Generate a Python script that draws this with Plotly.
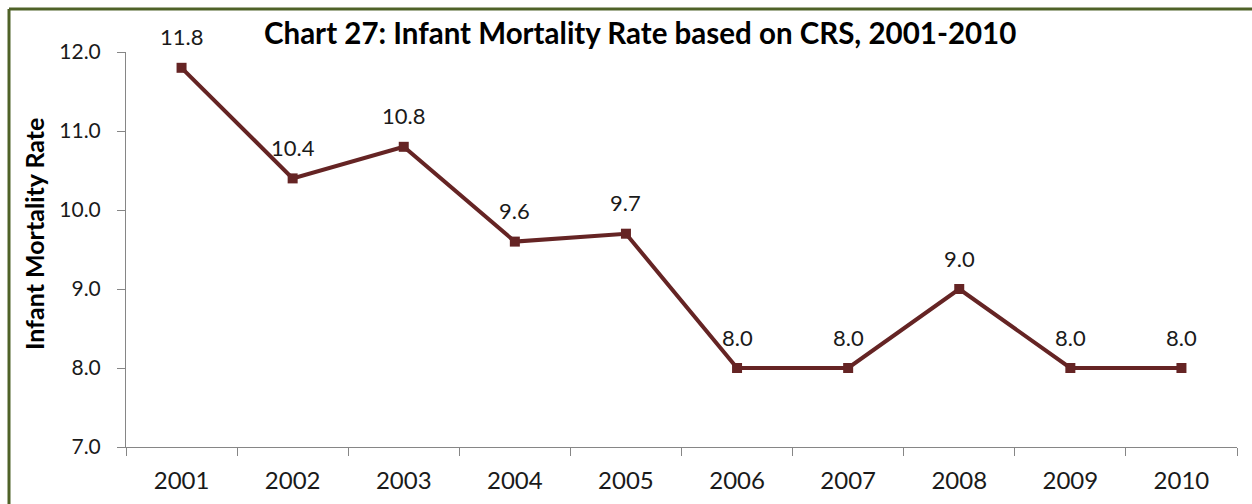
import plotly.graph_objects as go

years = ["2001", "2002", "2003", "2004", "2005", "2006", "2007", "2008", "2009", "2010"]
imr = [11.8, 10.4, 10.8, 9.6, 9.7, 8.0, 8.0, 9.0, 8.0, 8.0]
y_ticks = [7.0, 8.0, 9.0, 10.0, 11.0, 12.0]

LINE = "#652424"
AXIS = "#868686"
FRAME = "#4F6228"
FONT = "Lato"
TXT = "#1a1a1a"

W, H = 1252, 504
L, R, T, B = 126, 15, 52, 57
pw, ph = W - L - R, H - T - B

fig = go.Figure()
fig.add_trace(go.Scatter(
    x=years, y=imr, mode="lines+markers",
    line=dict(color=LINE, width=4),
    marker=dict(symbol="square", size=10, color=LINE),
    hoverinfo="x+y", showlegend=False,
))

# value labels above each point (category axis positioned by index)
for i, v in enumerate(imr):
    fig.add_annotation(x=i, y=v, xref="x", yref="y", text=f"{v:.1f}",
                       showarrow=False, yshift=31,
                       font=dict(family=FONT, size=22, color=TXT))

# chart title
fig.add_annotation(x=(640 - L) / pw, y=(H - B - 33) / ph, xref="paper", yref="paper",
                   text="<b>Chart 27: Infant Mortality Rate based on CRS, 2001-2010</b>",
                   showarrow=False, xanchor="center", yanchor="middle",
                   font=dict(family=FONT, size=29.5, color="#000000"))

# y axis title
fig.add_annotation(x=(34 - L) / pw, y=(H - B - 234) / ph, xref="paper", yref="paper",
                   text="<b>Infant Mortality Rate</b>", textangle=-90,
                   showarrow=False, xanchor="center", yanchor="middle",
                   font=dict(family=FONT, size=25, color="#000000"))

# outer frame (left and top edges)
fx = (9 - L) / pw
fy = (H - B - 9) / ph
fig.add_shape(type="line", xref="paper", yref="paper", x0=fx, x1=fx, y0=fy, y1=-0.3,
              line=dict(color=FRAME, width=3))
fig.add_shape(type="line", xref="paper", yref="paper", x0=fx, x1=(W - L) / pw, y0=fy, y1=fy,
              line=dict(color=FRAME, width=3))

fig.update_layout(
    width=W, height=H,
    margin=dict(l=L, r=R, t=T, b=B),
    paper_bgcolor="white", plot_bgcolor="white",
    font=dict(family=FONT, size=22, color=TXT),
    xaxis=dict(type="category", tickson="boundaries", ticks="outside", ticklen=8,
               tickcolor=AXIS, showline=True, linecolor=AXIS, linewidth=1,
               showgrid=False, zeroline=False, ticklabelstandoff=12, automargin=False,
               tickfont=dict(family=FONT, size=24, color=TXT),
               range=[-0.5, len(years) - 0.5]),
    yaxis=dict(range=[7, 12], tickvals=y_ticks, tickformat=".1f",
               ticks="outside", ticklen=8, tickcolor=AXIS,
               showline=True, linecolor=AXIS, linewidth=1,
               showgrid=False, zeroline=False, ticklabelstandoff=12, automargin=False,
               tickfont=dict(family=FONT, size=21, color=TXT)),
)

fig.write_html("out.html")
